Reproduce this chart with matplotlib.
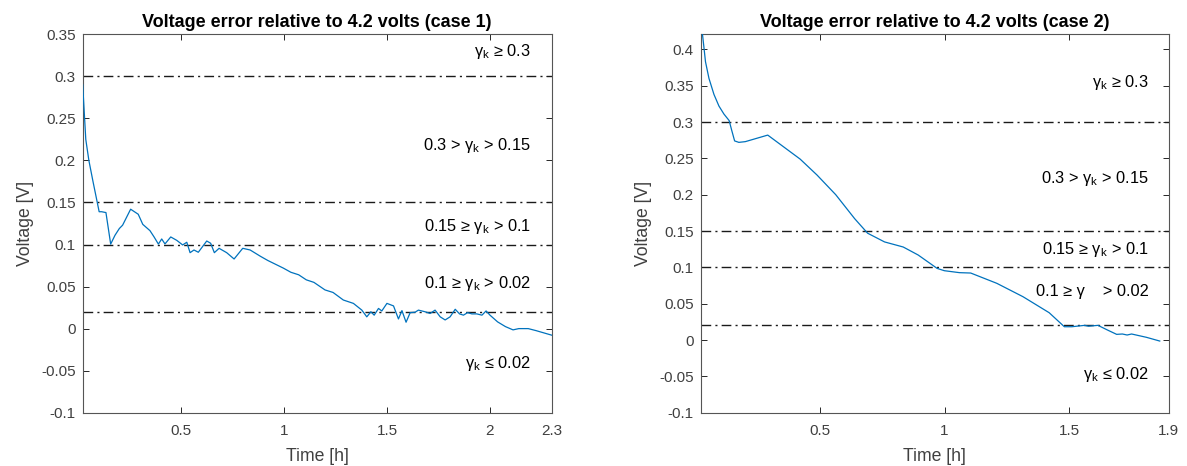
import matplotlib
matplotlib.use("Agg")
import matplotlib.pyplot as plt

plt.rcParams["font.family"] = ["Liberation Sans", "DejaVu Sans"]
plt.rcParams["mathtext.fontset"] = "custom"
plt.rcParams["mathtext.rm"] = "Liberation Sans"
plt.rcParams["mathtext.it"] = "Liberation Sans:italic"

# ---- case 1: voltage error vs time ----
t_case1 = [0.02, 0.035, 0.05, 0.07, 0.085, 0.100, 0.112, 0.133, 0.156, 0.177,
           0.198, 0.214, 0.253, 0.290, 0.312, 0.347, 0.367, 0.388, 0.404, 0.420,
           0.448, 0.477, 0.506, 0.526, 0.542, 0.561, 0.582, 0.623, 0.642, 0.660,
           0.683, 0.720, 0.756, 0.798, 0.834, 0.884, 0.920, 0.995, 1.032, 1.070,
           1.107, 1.144, 1.198, 1.237, 1.287, 1.336, 1.377, 1.401, 1.421, 1.437,
           1.458, 1.474, 1.499, 1.531, 1.555, 1.572, 1.592, 1.612, 1.636, 1.652,
           1.685, 1.709, 1.733, 1.758, 1.782, 1.806, 1.831, 1.852, 1.871, 1.891,
           1.912, 1.936, 1.961, 1.981, 2.000, 2.037, 2.075, 2.112, 2.140, 2.186,
           2.224, 2.300]
v_case1 = [0.290, 0.225, 0.200, 0.175, 0.157, 0.139, 0.139, 0.138, 0.1005, 0.111,
           0.119, 0.123, 0.142, 0.136, 0.124, 0.1165, 0.109, 0.1005, 0.1066, 0.1007,
           0.109, 0.105, 0.0995, 0.1027, 0.0903, 0.0935, 0.0908, 0.1042, 0.1015, 0.0903,
           0.0955, 0.0903, 0.0828, 0.0955, 0.0935, 0.086, 0.081, 0.072, 0.067, 0.064,
           0.058, 0.055, 0.046, 0.043, 0.034, 0.030, 0.022, 0.014, 0.020, 0.016,
           0.024, 0.021, 0.030, 0.027, 0.0115, 0.0214, 0.0076, 0.019, 0.0195, 0.022,
           0.020, 0.018, 0.022, 0.014, 0.0103, 0.014, 0.023, 0.0175, 0.016, 0.019,
           0.0175, 0.0175, 0.016, 0.021, 0.016, 0.008, 0.0024, -0.0015, 0.000, 0.000,
           -0.0024, -0.0078]

# ---- case 2: voltage error vs time ----
t_case2 = [0.02, 0.034, 0.040, 0.054, 0.074, 0.094, 0.114, 0.135, 0.145, 0.157,
           0.174, 0.200, 0.250, 0.290, 0.353, 0.420, 0.488, 0.563, 0.639, 0.691,
           0.759, 0.834, 0.894, 0.970, 0.999, 1.060, 1.105, 1.210, 1.315, 1.420,
           1.481, 1.511, 1.563, 1.578, 1.616, 1.654, 1.691, 1.714, 1.733, 1.751,
           1.811, 1.864]
v_case2 = [0.445, 0.402, 0.383, 0.360, 0.338, 0.322, 0.311, 0.302, 0.289, 0.274,
           0.272, 0.273, 0.278, 0.282, 0.266, 0.249, 0.227, 0.200, 0.167, 0.147,
           0.135, 0.128, 0.117, 0.0986, 0.0954, 0.0927, 0.0922, 0.078, 0.0596, 0.0376,
           0.0183, 0.0183, 0.0202, 0.019, 0.0202, 0.0138, 0.0078, 0.0083, 0.0069, 0.0083,
           0.0037, -0.0014]

# gamma_k band limits
band_limits = [0.3, 0.15, 0.1, 0.02]

labels_case1 = ["γ$_{\\rm k}$ ≥ 0.3",
                "0.3 > γ$_{\\rm k}$ > 0.15",
                "0.15 ≥ γ$_{\\rm k}$ > 0.1",
                "0.1 ≥ γ$_{\\rm k}$ > 0.02",
                "γ$_{\\rm k}$ ≤ 0.02"]
labels_case2 = ["γ$_{\\rm k}$ ≥ 0.3",
                "0.3 > γ$_{\\rm k}$ > 0.15",
                "0.15 ≥ γ$_{\\rm k}$ > 0.1",
                "0.1 ≥ γ    > 0.02",
                "γ$_{\\rm k}$ ≤ 0.02"]

W, H = 1187, 466
fig = plt.figure(figsize=(W / 100, H / 100), dpi=100)

AX_COL = "#262626"
LBL_COL = "#404040"
LINE_COL = "#0072BD"


def fmt(v):
    s = f"{v:.2f}".rstrip("0").rstrip(".")
    return "0" if s in ("-0", "0") else s


def setup(ax, t, v, xlim, ylim, yticks, xticks, xticklabels, title,
          labels, label_x, label_y):
    ax.plot(t, v, color=LINE_COL, lw=0.9, zorder=3)
    for b in band_limits:
        ax.axhline(b, color="#1a1a1a", lw=1.0,
                   linestyle=(0, (7, 3, 1.5, 3)), zorder=2)
    for txt, y in zip(labels, label_y):
        ax.text(label_x, y, txt, ha="right", va="center",
                fontsize=11.8, color="black")
    ax.set_xlim(*xlim)
    ax.set_ylim(*ylim)
    ax.set_yticks(yticks)
    ax.set_yticklabels([fmt(y) for y in yticks])
    ax.set_xticks(xticks)
    ax.set_xticklabels(xticklabels)
    ax.tick_params(direction="in", length=4, width=0.7, colors=AX_COL,
                   labelcolor=LBL_COL, labelsize=11, top=True, right=True)
    ax.tick_params(axis="x", pad=8)
    ax.tick_params(axis="y", pad=5)
    for s in ax.spines.values():
        s.set_color("#555555")
        s.set_linewidth(0.8)
    ax.set_title(title, fontsize=13, fontweight="bold", color="black", pad=5)
    ax.set_xlabel("Time [h]", fontsize=12.7, color=LBL_COL, labelpad=7)
    ax.set_ylabel("Voltage [V]", fontsize=12.7, color=LBL_COL, labelpad=5)


ax1 = fig.add_axes([82.7 / W, 1 - 412.7 / H, (551.7 - 82.7) / W, (412.7 - 34.3) / H])
ax2 = fig.add_axes([700.5 / W, 1 - 412.7 / H, (1168.7 - 700.5) / W, (412.7 - 34.3) / H])

yt1 = [-0.1 + 0.05 * i for i in range(10)]
yt2 = [-0.1 + 0.05 * i for i in range(11)]

setup(ax1, t_case1, v_case1, (0.02, 2.3), (-0.1, 0.35), yt1,
      [0.5, 1, 1.5, 2, 2.3], ["0.5", "1", "1.5", "2", "2.3"],
      "Voltage error relative to 4.2 volts (case 1)",
      labels_case1, 2.2, [0.329, 0.2175, 0.121, 0.054, -0.042])
setup(ax2, t_case2, v_case2, (0.02, 1.9), (-0.1, 0.4207), yt2,
      [0.5, 1, 1.5, 1.9], ["0.5", "1", "1.5", "1.9"],
      "Voltage error relative to 4.2 volts (case 2)",
      labels_case2, 1.82, [0.355, 0.2216, 0.125, 0.0674, -0.048])

fig.savefig("out.png", dpi=100)
